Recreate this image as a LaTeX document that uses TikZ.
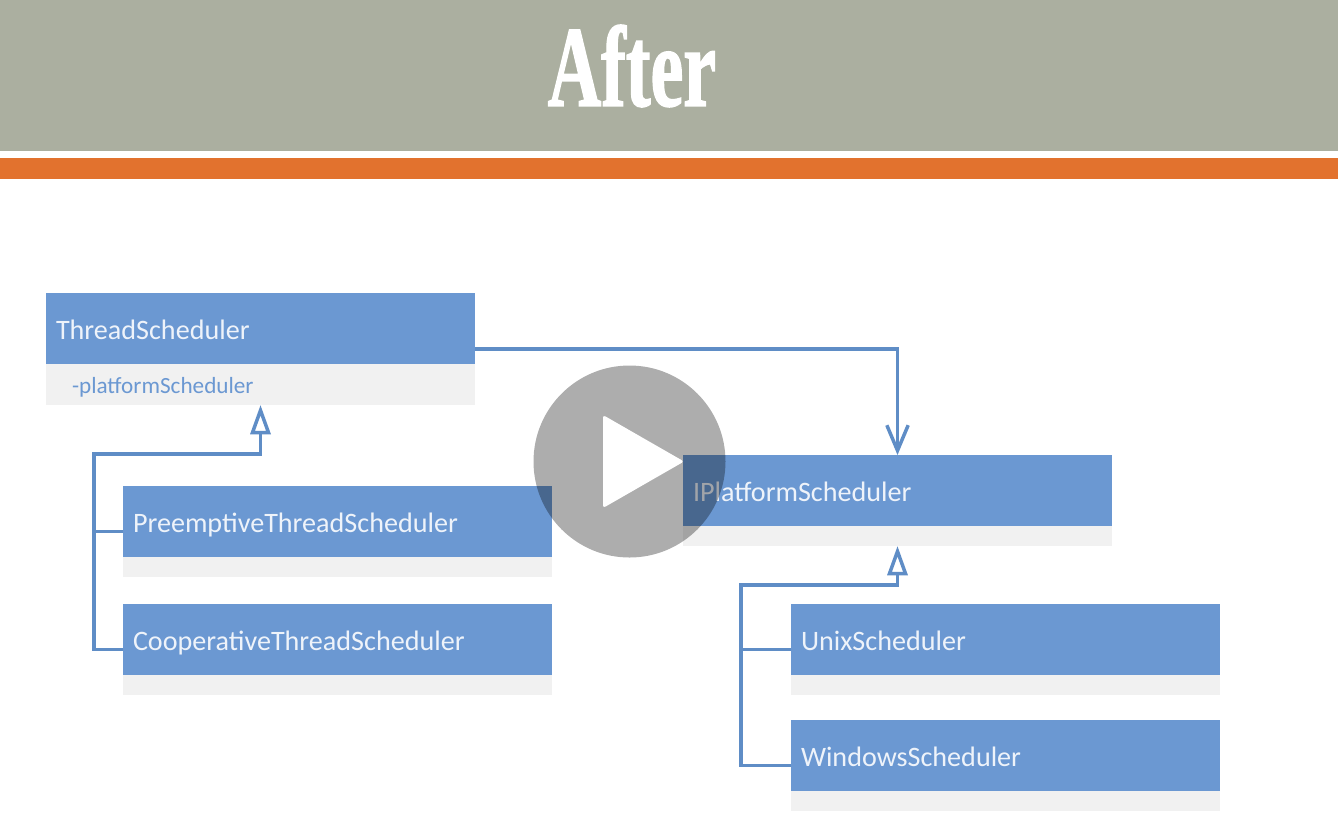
\documentclass[tikz,border=0pt]{standalone}
\usepackage{fontspec}
\setmainfont{Carlito}
\newfontfamily\titlefont[BoldFeatures={FakeBold=1.6}]{Liberation Serif}
\usetikzlibrary{arrows.meta,calc}
\definecolor{bandgray}{HTML}{ABAFA0}
\definecolor{bandorange}{HTML}{E2722E}
\definecolor{classblue}{HTML}{6B98D2}
\definecolor{classtext}{HTML}{EEF3FA}
\definecolor{linkblue}{HTML}{5F8DC6}
\definecolor{attrgray}{HTML}{F1F1F1}
\tikzset{
    classhead/.style={anchor=north west,fill=classblue,text=classtext,outer sep=0pt,minimum width=321.75pt,minimum height=53.25pt,inner xsep=7.5pt,inner ysep=0pt,text width=306.75pt,text height=20pt,text depth=3.5pt,align=left,font=\fontsize{21.1}{22}\selectfont},
    classattr/.style={anchor=north,fill=attrgray,text=classblue,outer sep=0pt,minimum width=321.75pt,minimum height=#1,inner ysep=0pt,inner xsep=19.5pt,text width=282.75pt,text height=17pt,text depth=3.5pt,align=left,font=\fontsize{17.4}{18}\selectfont},
    classattr/.default=15pt,
    link/.style={draw=linkblue,line width=2.6pt},
    generalize/.style={link,-{Triangle[open,fill=white,length=22pt,width=15pt,line width=2.6pt]}},
    uses/.style={link,-{Straight Barb[length=19pt,width=16pt,line width=2.6pt]}}
}
\begin{document}
\begin{tikzpicture}[x=0.75pt,y=0.75pt,yscale=-1,xscale=1]
        \useasboundingbox (0,0) rectangle (1338,826);
        \fill [white] (0,0) rectangle (1338,826);
        \fill [bandgray] (0,0) rectangle (1338,151);
        \fill [bandorange] (0,158) rectangle (1338,179);

        \node [text=white,inner sep=0pt,xscale=0.645,font=\titlefont\bfseries\fontsize{86}{90}\selectfont] (title) at (632,66) {After};

        % classes
        \foreach \name/\x/\y/\label in {preemptive/123/486/PreemptiveThreadScheduler,cooperative/123/604/CooperativeThreadScheduler,platform/683/455/IPlatformScheduler,unix/791/604/UnixScheduler,windows/791/720/WindowsScheduler}{
            \node [classhead] (\name) at (\x,\y) {\label};
            \node [classattr,text height=0pt,text depth=0pt] (\name-attr) at (\name.south) {};
            \coordinate (\name-mid) at ($(\name.north west)!0.5!(\name-attr.south west)$);
        }
        \node [classhead] (thread) at (46,293) {ThreadScheduler};
        \node [classattr=30.75pt] (thread-attr) at (thread.south) {-platformScheduler};

        % free ends of the connectors
        \coordinate (lefttrunk) at (94,454);
        \coordinate (righttrunk) at (741,585);

        \draw [uses] (thread.east |- 0,349) -- (platform.north |- 0,349) -- (platform.north);
        \draw [generalize] (cooperative-mid) -| (lefttrunk) -| (thread-attr.south);
        \draw [link] (preemptive-mid) -- (preemptive-mid -| lefttrunk);
        \draw [generalize] (windows-mid) -| (righttrunk) -| (platform-attr.south);
        \draw [link] (unix-mid) -- (unix-mid -| righttrunk);

        % play button on top
        \node [circle,fill=black,fill opacity=0.32,minimum size=144pt,inner sep=0pt] (playdisc) at (629.5,461.5) {};
        \fill [white,rounded corners=2pt] (603,415) -- (684,461.5) -- (603,508) -- cycle;
\end{tikzpicture}
\end{document}
